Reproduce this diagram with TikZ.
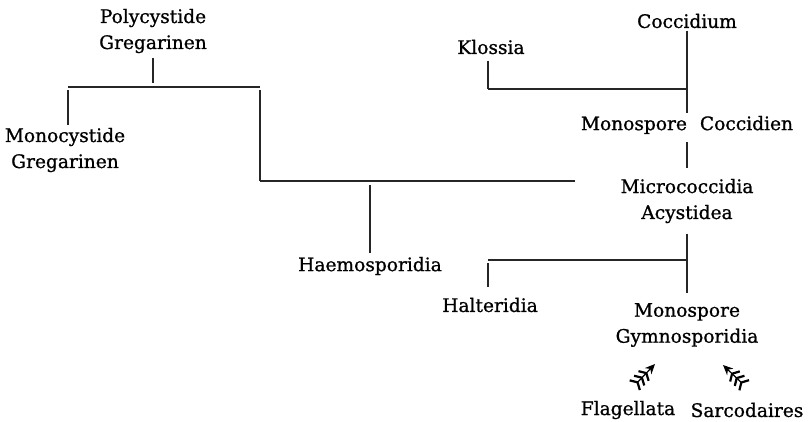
\documentclass[tikz,border=0pt]{standalone}
\usepackage{fontspec}
\newfontfamily\taxonfont{DejaVu Serif}[FakeBold=0.9]
\usetikzlibrary{positioning,arrows.meta}

\tikzset{
  taxon/.style={inner sep=0pt, align=center, font=\taxonfont\fontsize{9.3}{13}\selectfont},
  branch/.style={line width=0.55pt, draw=black!85},
  fletched/.style={line width=0.6pt,
    {Straight Barb[reversed,length=2pt,width=7pt,line width=1.1pt] Straight Barb[reversed,length=2pt,width=7pt,line width=1.1pt] Straight Barb[reversed,length=2pt,width=7pt,line width=1.1pt]}-{Stealth[length=5pt,width=4.5pt]}}
}

\begin{document}
\begin{tikzpicture}[x=0.5pt, y=-0.5pt]
  \useasboundingbox (0,0) rectangle (812,422);
  % groups
  \node[taxon] (poly) at (153,31) {Polycystide\\Gregarinen};
  \node[taxon] (mono) at (65,150) {Monocystide\\Gregarinen};
  \node[taxon] (haemo) at (370,266) {Haemosporidia};
  \node[taxon] (klossia) at (491,47) {Klossia};
  \node[taxon] (cocc) at (687,21) {Coccidium};
  \node[taxon] (monococ) at (687,125) {Monospore\hspace{0.7em}Coccidien};
  \node[taxon] (micro) at (687,201) {Micrococcidia\\Acystidea};
  \node[taxon] (halt) at (490,305) {Halteridia};
  \node[taxon] (gymno) at (687,325) {Monospore\\Gymnosporidia};
  \node[taxon] (flag) at (628,410) {Flagellata};
  \node[taxon] (sarc) at (747,410) {Sarcodaires};
  % junctions
  \coordinate (gL) at (68,87);
  \coordinate (gR) at (260,87);
  \coordinate (hR) at (260,181);
  \coordinate (hE) at (575,181);
  \coordinate (kL) at (488,89);
  \coordinate (tL) at (488,260);
  \coordinate (fT) at (634,386);
  \coordinate (fH) at (655,364);
  \coordinate (sT) at (745,386);
  \coordinate (sH) at (723,365);
  % branches
  \draw[branch, shorten <=2pt, shorten >=2pt] (poly.south) -- (poly.south |- gL);
  \draw[branch] (gL) -- (gR);
  \draw[branch, shorten <=1.5pt, shorten >=1pt] (gL) -- (gL |- mono.north);
  \draw[branch, shorten <=1.5pt] (gR) -- (hR);
  \draw[branch] (hR) -- (hE);
  \draw[branch, shorten <=2pt, shorten >=2pt] (haemo.north |- hR) -- (haemo.north);
  \draw[branch, shorten <=3pt] (klossia.south -| kL) -- (kL);
  \draw[branch] (kL) -- (cocc.south |- kL);
  \draw[branch, shorten <=1pt, shorten >=1.5pt] (cocc.south) -- (monococ.north);
  \draw[branch, shorten <=4pt, shorten >=5pt] (monococ.south) -- (micro.north);
  \draw[branch, shorten <=5pt, shorten >=5pt] (micro.south) -- (gymno.north);
  \draw[branch] (tL) -- (micro.south |- tL);
  \draw[branch, shorten <=1.5pt, shorten >=5pt] (tL) -- (tL |- halt.north);
  % arrows
  \draw[fletched] (fT) -- (fH);
  \draw[fletched] (sT) -- (sH);
\end{tikzpicture}
\end{document}
